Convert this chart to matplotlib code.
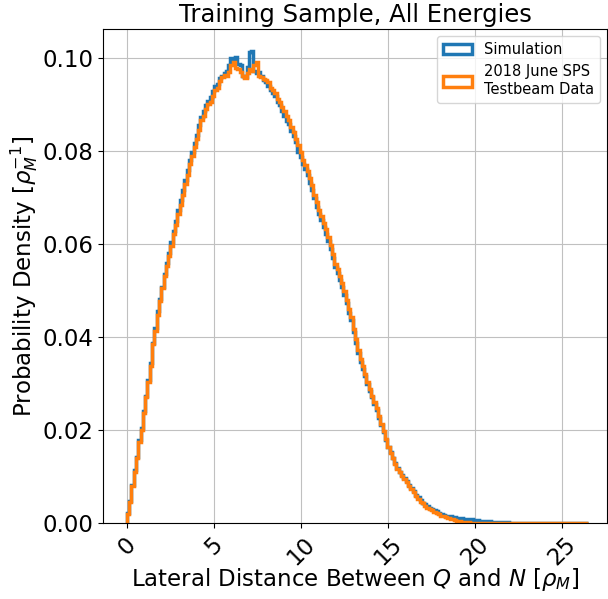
import numpy as np
import matplotlib
matplotlib.use("Agg")
import matplotlib.pyplot as plt

# histogram layout: 200 bins from 0 to 26.5 rho_M
edges = np.linspace(0, 26.5, 201)
centers = 0.5 * (edges[1:] + edges[:-1])

# probability density per bin
sim = [
    0.0022, 0.0048, 0.0082, 0.0115, 0.0142, 0.0178, 0.0204, 0.0240, 0.0272, 0.0308,
    0.0345, 0.0388, 0.0420, 0.0455, 0.0482, 0.0508, 0.0536, 0.0560, 0.0580, 0.0605,
    0.0628, 0.0650, 0.0672, 0.0695, 0.0715, 0.0738, 0.0758, 0.0780, 0.0798, 0.0816,
    0.0834, 0.0855, 0.0872, 0.0885, 0.0898, 0.0908, 0.0915, 0.0928, 0.0940, 0.0944,
    0.0956, 0.0962, 0.0968, 0.0972, 0.0985, 0.1000, 0.0998, 0.1001, 0.0987, 0.0984,
    0.0962, 0.0958, 0.0980, 0.1012, 0.1015, 0.0972, 0.0968, 0.0970, 0.0960, 0.0952,
    0.0948, 0.0940, 0.0930, 0.0924, 0.0918, 0.0905, 0.0898, 0.0886, 0.0876, 0.0865,
    0.0858, 0.0843, 0.0832, 0.0818, 0.0798, 0.0786, 0.0772, 0.0760, 0.0748, 0.0732,
    0.0716, 0.0698, 0.0680, 0.0665, 0.0652, 0.0636, 0.0622, 0.0606, 0.0588, 0.0570,
    0.0550, 0.0538, 0.0522, 0.0508, 0.0490, 0.0472, 0.0452, 0.0436, 0.0410, 0.0388,
    0.0366, 0.0346, 0.0330, 0.0316, 0.0298, 0.0284, 0.0270, 0.0256, 0.0242, 0.0226,
    0.0210, 0.0195, 0.0178, 0.0164, 0.0152, 0.0140, 0.0128, 0.0119, 0.0110, 0.0103,
    0.0096, 0.0090, 0.0082, 0.0075, 0.0068, 0.0061, 0.0055, 0.0049, 0.0044, 0.0040,
    0.0036, 0.0033, 0.0030, 0.0027, 0.0025, 0.0022, 0.0020, 0.0018, 0.0016, 0.0015,
    0.0014, 0.0013, 0.0012, 0.0011, 0.0010, 0.0010, 0.0009, 0.0009, 0.0008, 0.0008,
    0.0007, 0.0006, 0.0006, 0.0005, 0.0005, 0.0004, 0.0004, 0.0004, 0.0003, 0.0003,
    0.0003, 0.0002, 0.0002, 0.0002, 0.00015, 0.00012, 0.0001, 0.0001, 0.00005, 0.00003,
    0.00002, 0.00002, 0.00001, 0.00001, 0.0, 0.00001, 0.0, 0.0, 0.0, 0.0,
    0.0, 0.0, 0.0, 0.0, 0.0, 0.0, 0.0, 0.0, 0.0, 0.0,
    0.0, 0.0, 0.0, 0.0, 0.0, 0.0, 0.0, 0.0, 0.0, 0.0,
]

testbeam = [
    0.0020, 0.0045, 0.0080, 0.0110, 0.0140, 0.0175, 0.0200, 0.0236, 0.0270, 0.0303,
    0.0338, 0.0385, 0.0412, 0.0448, 0.0478, 0.0505, 0.0531, 0.0552, 0.0575, 0.0595,
    0.0622, 0.0640, 0.0665, 0.0683, 0.0706, 0.0728, 0.0748, 0.0772, 0.0788, 0.0809,
    0.0826, 0.0845, 0.0866, 0.0876, 0.0890, 0.0900, 0.0906, 0.0918, 0.0930, 0.0936,
    0.0950, 0.0958, 0.0963, 0.0960, 0.0970, 0.0985, 0.0990, 0.0978, 0.0975, 0.0970,
    0.0962, 0.0957, 0.0968, 0.0975, 0.0972, 0.0985, 0.0990, 0.0962, 0.0958, 0.0955,
    0.0952, 0.0948, 0.0935, 0.0930, 0.0925, 0.0912, 0.0905, 0.0895, 0.0885, 0.0874,
    0.0866, 0.0852, 0.0840, 0.0826, 0.0812, 0.0797, 0.0780, 0.0770, 0.0757, 0.0741,
    0.0727, 0.0706, 0.0690, 0.0673, 0.0661, 0.0645, 0.0633, 0.0615, 0.0598, 0.0578,
    0.0556, 0.0545, 0.0530, 0.0517, 0.0498, 0.0480, 0.0460, 0.0443, 0.0418, 0.0395,
    0.0372, 0.0352, 0.0337, 0.0321, 0.0303, 0.0288, 0.0274, 0.0260, 0.0247, 0.0230,
    0.0213, 0.0198, 0.0180, 0.0164, 0.0151, 0.0140, 0.0126, 0.0117, 0.0109, 0.0102,
    0.0095, 0.0089, 0.0080, 0.0073, 0.0066, 0.0059, 0.0052, 0.0046, 0.0042, 0.0037,
    0.0033, 0.0030, 0.0027, 0.0024, 0.0021, 0.0019, 0.0016, 0.0014, 0.0012, 0.0011,
    0.0009, 0.0008, 0.0006, 0.0005, 0.0004, 0.0003, 0.00025, 0.0002, 0.00015, 0.0001,
    0.0001, 0.00008, 0.00006, 0.00005, 0.00004, 0.00003, 0.00003, 0.00002, 0.00002, 0.00002,
    0.00001, 0.00001, 0.0, 0.00001, 0.0, 0.0, 0.00001, 0.0, 0.0, 0.0,
    0.0, 0.0, 0.0, 0.0, 0.0, 0.0, 0.0, 0.0, 0.0, 0.0,
    0.0, 0.0, 0.0, 0.0, 0.0, 0.0, 0.0, 0.0, 0.0, 0.0,
    0.0, 0.0, 0.0, 0.0, 0.0, 0.0, 0.0, 0.0, 0.0, 0.00001,
]

labels = ["Simulation", "2018 June SPS\nTestbeam Data"]

fig = plt.figure(figsize=(6.08, 5.99), dpi=100)
ax = fig.add_axes([103 / 608, 1 - 523 / 599, 504 / 608, 494 / 599])

ax.hist(centers, bins=edges, weights=sim, histtype="step", lw=2.5,
        color="tab:blue", label=labels[0])
ax.hist(centers, bins=edges, weights=testbeam, histtype="step", lw=2.5,
        color="tab:orange", label=labels[1])

ax.set_xlim(-1.36, 27.6)
ax.set_ylim(0, 0.1062)
ax.grid(True, color="#c0c0c0", lw=0.8)
ax.set_axisbelow(True)
ax.tick_params(labelsize=16.5)
plt.setp(ax.get_xticklabels(), rotation=45)
ax.set_yticks([0, 0.02, 0.04, 0.06, 0.08, 0.10])
ax.set_xlabel(r"Lateral Distance Between $Q$ and $N$ [$\rho_M$]", fontsize=16.5,
              labelpad=-3)
ax.set_ylabel(r"Probability Density [$\rho_M^{-1}$]", fontsize=16.5, labelpad=2)
ax.set_title("Training Sample, All Energies", fontsize=17.5, pad=5)
ax.legend(loc="upper right", fontsize=10.5)

fig.savefig("out.png", dpi=100)
